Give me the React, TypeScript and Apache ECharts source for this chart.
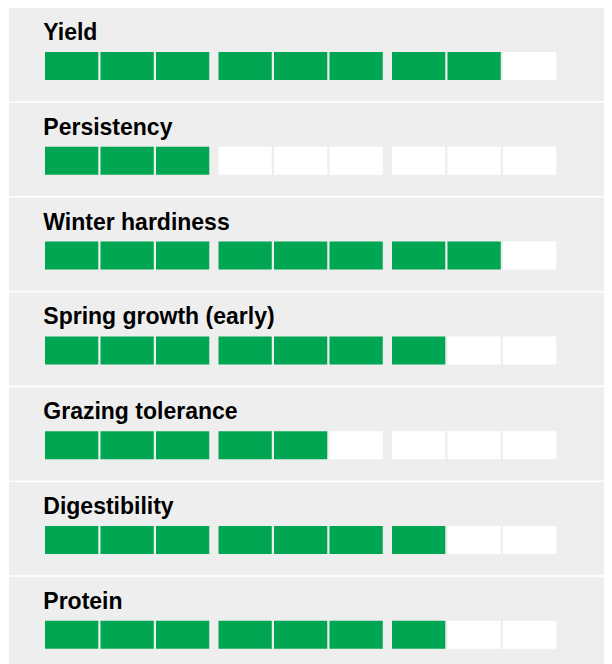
import React, { useEffect, useRef } from "react";
import * as echarts from "echarts";

// Data
const traits: string[] = [
  "Yield",
  "Persistency",
  "Winter hardiness",
  "Spring growth (early)",
  "Grazing tolerance",
  "Digestibility",
  "Protein",
];
const scores: number[] = [8, 3, 8, 7, 5, 7, 7];
const maxScore = 9;

// Style / layout constants (in axis units: 1 unit = one cell pitch)
const CELL_W = 0.96;
const GROUP_GAP = 0.126;
const GREEN = "#00a651";
const EMPTY = "#ffffff";
const PANEL_BG = "#eeeeee";
const ROW_PITCH = 94.8;
const CHART_H = 672;

export default function App() {
  const ref = useRef<HTMLDivElement>(null);

  useEffect(() => {
    if (!ref.current) return;
    const chart = echarts.init(ref.current, undefined, { renderer: "svg" });

    const cellData: number[][] = [];
    traits.forEach((_, r) => {
      for (let j = 0; j < maxScore; j++) {
        cellData.push([j, r, j < scores[r] ? 1 : 0]);
      }
    });
    const rowData = traits.map((_, r) => [0, r]);

    chart.setOption({
      animation: false,
      grid: {
        left: 37,
        top: 0,
        right: 0,
        bottom: CHART_H - ROW_PITCH * traits.length,
        containLabel: false,
      },
      xAxis: {
        type: "value",
        min: 0,
        max: 567 / 55.5,
        show: false,
      },
      yAxis: {
        type: "category",
        data: traits,
        inverse: true,
        show: false,
      },
      series: [
        {
          type: "custom",
          data: rowData,
          silent: true,
          renderItem: (params: any, api: any) => {
            const r = api.value(1);
            const p = api.coord([0, r]);
            const band = api.size([0, 1])[1];
            const top = p[1] - band / 2;
            const cs = params.coordSys;
            return {
              type: "group",
              children: [
                {
                  type: "rect",
                  shape: {
                    x: 1,
                    y: top,
                    width: cs.x + cs.width - 1,
                    height: band - 1.6,
                  },
                  style: { fill: PANEL_BG },
                },
                {
                  type: "text",
                  x: p[0] - 1.7,
                  y: top + 24,
                  style: {
                    text: traits[r],
                    fill: "#000000",
                    font: "bold 23px 'Liberation Sans', Arial, Helvetica, sans-serif",
                    verticalAlign: "middle",
                    align: "left",
                  },
                },
              ],
            };
          },
        },
        {
          type: "custom",
          data: cellData,
          silent: true,
          renderItem: (params: any, api: any) => {
            const j = api.value(0);
            const r = api.value(1);
            const filled = api.value(2);
            const left = j + Math.floor(j / 3) * GROUP_GAP;
            const p0 = api.coord([left, r]);
            const p1 = api.coord([left + CELL_W, r]);
            const band = api.size([0, 1])[1];
            const top = p0[1] - band / 2;
            return {
              type: "rect",
              shape: {
                x: p0[0],
                y: top + 44,
                width: p1[0] - p0[0],
                height: 28,
              },
              style: { fill: filled ? GREEN : EMPTY },
            };
          },
        },
      ],
    });

    return () => chart.dispose();
  }, []);

  return (
    <div style={{ width: 604, height: 656, overflow: "hidden" }}>
      <div ref={ref} style={{ width: 604, height: CHART_H }} />
    </div>
  );
}
